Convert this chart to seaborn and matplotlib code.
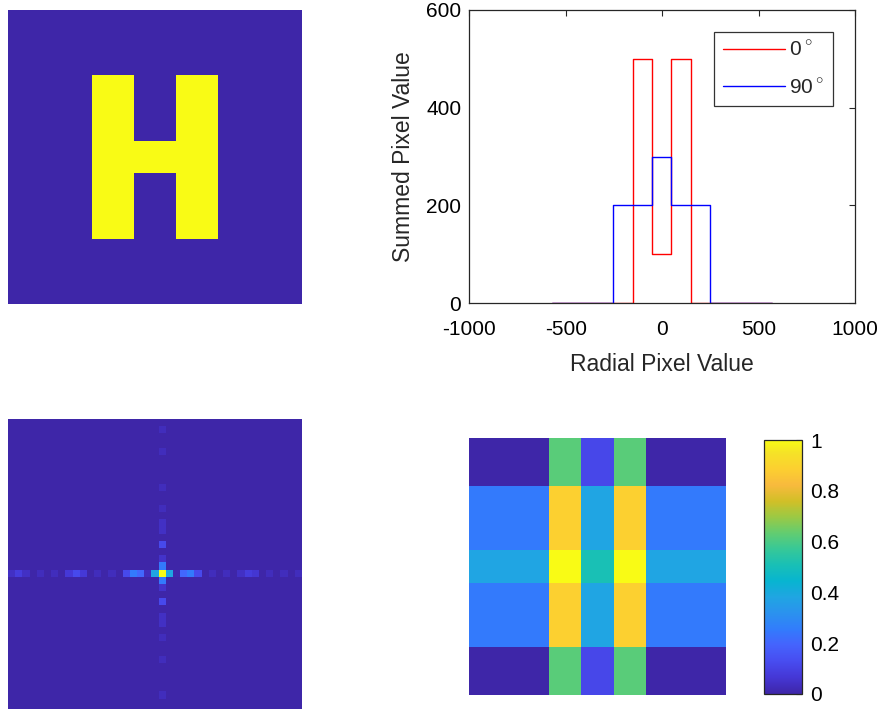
import matplotlib
import numpy as np
import seaborn as sns
from matplotlib.colors import LinearSegmentedColormap

matplotlib.use("Agg")

import matplotlib.pyplot as plt

# H test image, 9 rows x 7 columns (1 = letter)
h_image = [
    [0, 0, 0, 0, 0, 0, 0],
    [0, 0, 0, 0, 0, 0, 0],
    [0, 0, 1, 0, 1, 0, 0],
    [0, 0, 1, 0, 1, 0, 0],
    [0, 0, 1, 1, 1, 0, 0],
    [0, 0, 1, 0, 1, 0, 0],
    [0, 0, 1, 0, 1, 0, 0],
    [0, 0, 0, 0, 0, 0, 0],
    [0, 0, 0, 0, 0, 0, 0],
]

# radon projections at 0 and 90 degrees
radial_0 = [-572, -152, -152, -52, -52, 48, 48, 148, 148, 570]
summed_0 = [0, 0, 500, 500, 100, 100, 500, 500, 0, 0]
radial_90 = [-572, -253, -253, -52, -52, 48, 48, 248, 248, 570]
summed_90 = [0, 0, 200, 200, 300, 300, 200, 200, 0, 0]

# FFT magnitude (41 x 41), only centre row / column are non-zero
fft_size = 41
fft_centre = 21
fft_row = [0.04, 0.08, 0.04, 0, 0.03, 0, 0.03, 0, 0.07, 0.12, 0.07, 0, 0.03, 0,
           0.03, 0, 0.12, 0.25, 0.2, 0.03, 0.38, 1.0, 0.38, 0.01, 0.2, 0.25, 0.12,
           0, 0.03, 0, 0.03, 0, 0.04, 0.08, 0.06, 0, 0.03, 0, 0.03, 0, 0.03]
fft_col = [0, 0.03, 0, 0, 0.03, 0, 0, 0, 0, 0.03, 0, 0, 0.03, 0, 0.04, 0.04, 0,
           0.12, 0, 0.05, 0.25, 1.0, 0.25, 0.05, 0, 0.12, 0, 0.04, 0.04, 0, 0.03,
           0, 0, 0.03, 0, 0, 0, 0, 0.03, 0, 0]

# low-resolution block image
block_values = [
    [0.0, 0.62, 0.11, 0.62, 0.0],
    [0.25, 0.89, 0.38, 0.89, 0.25],
    [0.38, 1.0, 0.51, 1.0, 0.38],
    [0.25, 0.89, 0.38, 0.89, 0.25],
    [0.0, 0.62, 0.11, 0.62, 0.0],
]
block_col_widths = [5, 2, 2, 2, 5]
block_row_heights = [3, 4, 2, 4, 3]

colorbar_ticks = [0, 0.2, 0.4, 0.6, 0.8, 1]
colorbar_labels = ["0", "0.2", "0.4", "0.6", "0.8", "1"]

# MATLAB parula (R2014) anchors
parula_anchors = [
    (0 / 63, (0.2422, 0.1504, 0.6603)),
    (4 / 63, (0.2706, 0.2147, 0.8364)),
    (8 / 63, (0.2813, 0.3006, 0.9414)),
    (12 / 63, (0.2699, 0.3892, 0.9906)),
    (16 / 63, (0.1963, 0.4847, 0.9892)),
    (20 / 63, (0.1687, 0.5703, 0.9359)),
    (24 / 63, (0.1248, 0.6459, 0.8883)),
    (28 / 63, (0.0297, 0.7082, 0.8163)),
    (32 / 63, (0.0964, 0.7500, 0.7120)),
    (36 / 63, (0.2161, 0.7843, 0.5923)),
    (40 / 63, (0.3909, 0.8029, 0.4354)),
    (44 / 63, (0.6174, 0.7876, 0.2612)),
    (48 / 63, (0.8203, 0.7498, 0.1535)),
    (52 / 63, (0.9728, 0.7298, 0.2394)),
    (56 / 63, (0.9892, 0.8136, 0.1885)),
    (60 / 63, (0.9610, 0.8890, 0.1537)),
    (63 / 63, (0.9769, 0.9839, 0.0805)),
]
parula = LinearSegmentedColormap.from_list("parula", parula_anchors, N=256)

sns.set_style("white")
plt.rcParams["font.family"] = ["Liberation Sans", "DejaVu Sans"]
plt.rcParams["mathtext.fontset"] = "custom"
plt.rcParams["mathtext.rm"] = "Liberation Sans"
plt.rcParams["axes.unicode_minus"] = False

AXIS_GREY = "#262626"
TICK_SIZE = 15

fig = plt.figure(figsize=(8.85, 7.09), dpi=100)

# top left: H image
ax_h = fig.add_axes([0.00904, 0.5712, 0.3322, 0.4147])
sns.heatmap(np.array(h_image), ax=ax_h, cmap=parula, vmin=0, vmax=1, cbar=False,
            xticklabels=False, yticklabels=False)
ax_h.set_xlabel("")
ax_h.set_ylabel("")

# top right: radon projections
ax_r = fig.add_axes([0.5305, 0.5726, 0.4356, 0.4133])
sns.lineplot(x=radial_0, y=summed_0, sort=False, estimator=None, color="red",
             linewidth=1.0, label=r"0$\,^{\circ}$", ax=ax_r)
sns.lineplot(x=radial_90, y=summed_90, sort=False, estimator=None, color="blue",
             linewidth=1.0, label=r"90$\,^{\circ}$", ax=ax_r)
ax_r.set_xlim(-1000, 1000)
ax_r.set_ylim(0, 600)
ax_r.set_xticks([-1000, -500, 0, 500, 1000])
ax_r.set_yticks([0, 200, 400, 600])
ax_r.set_xlabel("Radial Pixel Value", fontsize=16.5, labelpad=10)
ax_r.set_ylabel("Summed Pixel Value", fontsize=16.5, labelpad=8)
ax_r.tick_params(direction="in", length=4, width=0.8, colors=AXIS_GREY,
                 labelcolor="black", labelsize=TICK_SIZE, top=True, right=True)
ax_r.tick_params(axis="x", pad=12)
ax_r.tick_params(axis="y", pad=6)
for spine in ax_r.spines.values():
    spine.set_visible(True)
    spine.set_color(AXIS_GREY)
    spine.set_linewidth(0.9)
leg = ax_r.legend(loc="upper right", bbox_to_anchor=(0.943, 0.925),
                  borderaxespad=0, fontsize=TICK_SIZE, frameon=True, fancybox=False,
                  edgecolor="black", handlelength=3.0, handletextpad=0.2,
                  labelspacing=0.85, borderpad=0.4)
leg.get_frame().set_linewidth(0.9)

# bottom left: FFT magnitude
fft_image = np.zeros((fft_size, fft_size))
fft_image[fft_centre, :] = fft_row
fft_image[:, fft_centre] = fft_col
ax_f = fig.add_axes([0.00904, -0.00564, 0.3322, 0.4147])
sns.heatmap(fft_image, ax=ax_f, cmap=parula, vmin=0, vmax=1, cbar=False,
            xticklabels=False, yticklabels=False)

# bottom right: block image with colorbar
block_image = np.repeat(np.repeat(np.array(block_values), block_row_heights, axis=0),
                        block_col_widths, axis=1)
ax_b = fig.add_axes([0.5299, 0.01975, 0.2904, 0.3625])
cax = fig.add_axes([0.8633, 0.02116, 0.0429, 0.3582])
sns.heatmap(block_image, ax=ax_b, cmap=parula, vmin=0, vmax=1, cbar=True,
            cbar_ax=cax, xticklabels=False, yticklabels=False)
cax.set_yticks(colorbar_ticks)
cax.set_yticklabels(colorbar_labels)
cax.tick_params(direction="in", length=4, width=0.8, colors=AXIS_GREY,
                labelcolor="black", labelsize=TICK_SIZE, right=True, left=False, pad=6)
cbar = ax_b.collections[0].colorbar
cbar.outline.set_visible(True)
cbar.outline.set_edgecolor(AXIS_GREY)
cbar.outline.set_linewidth(0.9)

fig.savefig("out.png", dpi=100)
plt.close(fig)
